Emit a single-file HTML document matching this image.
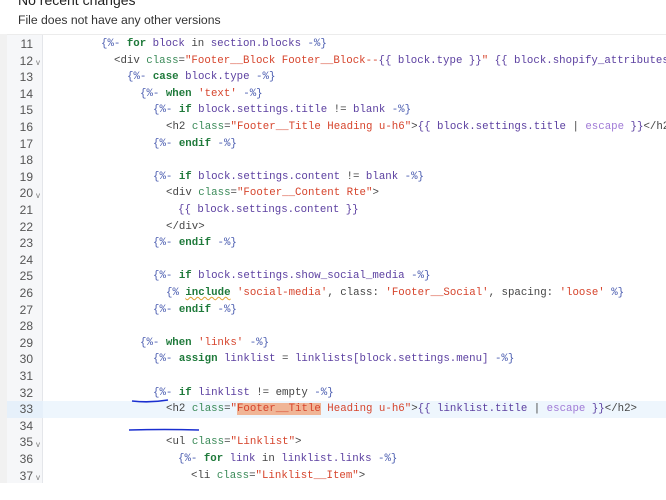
<!DOCTYPE html>
<html><head><meta charset="utf-8"><style>
*{margin:0;padding:0;box-sizing:border-box}
body{width:666px;height:500px;background:#fff;position:relative;overflow:hidden;font-family:"Liberation Sans",sans-serif}
.t1{position:absolute;left:18px;top:-8px;font-size:14px;color:#222;font-weight:500}
.t2{position:absolute;left:18px;top:13px;font-size:12.2px;color:#333}
.strip{position:absolute;left:0;top:34px;width:7px;height:449px;background:#f1f1f1}
.gut{position:absolute;left:7px;top:34px;width:36px;height:449px;background:#f6f7f9;border-right:1px solid #e4e6ea}
.hdr{position:absolute;left:7px;top:34px;width:659px;height:1px;background:#ececec}
.hl{position:absolute;left:43px;top:401px;width:623px;height:17px;background:#eef6fd}
.hlg{position:absolute;left:7px;top:401px;width:36px;height:17px;background:#e6f0fa}
.ln{position:absolute;left:7px;width:26px;text-align:right;font-size:12px;color:#555;line-height:16.6px}
.fold{position:absolute;left:36px;font-size:8px;color:#777}
.c{position:absolute;font-family:"Liberation Mono",monospace;font-size:10.75px;line-height:16.6px;white-space:pre;color:#444}
.d{color:#4a5cb0}.k{color:#1f7a3b;font-weight:bold}.v{color:#5b3fa0}.s{color:#d6442c}.a{color:#3a8a58}.e{color:#a07ad6}.g{color:#444}
.hi{background:#f0b596}
.sq{text-decoration:underline wavy #e0a030;text-decoration-thickness:1px}
</style></head><body>
<div class="t1">No recent changes</div>
<div class="t2">File does not have any other versions</div>
<div class="strip"></div>
<div class="gut"></div>
<div class="hdr"></div>
<div class="hl"></div><div class="hlg"></div>

<div class="ln" style="top:36px">11</div>
<div class="ln" style="top:52.6px">12</div><div class="fold" style="top:58px">v</div>
<div class="ln" style="top:69.2px">13</div>
<div class="ln" style="top:85.8px">14</div>
<div class="ln" style="top:102.4px">15</div>
<div class="ln" style="top:119px">16</div>
<div class="ln" style="top:135.6px">17</div>
<div class="ln" style="top:152.2px">18</div>
<div class="ln" style="top:168.8px">19</div>
<div class="ln" style="top:185.4px">20</div><div class="fold" style="top:191px">v</div>
<div class="ln" style="top:202px">21</div>
<div class="ln" style="top:218.6px">22</div>
<div class="ln" style="top:235.2px">23</div>
<div class="ln" style="top:251.8px">24</div>
<div class="ln" style="top:268.4px">25</div>
<div class="ln" style="top:285px">26</div>
<div class="ln" style="top:301.6px">27</div>
<div class="ln" style="top:318.2px">28</div>
<div class="ln" style="top:334.8px">29</div>
<div class="ln" style="top:351.4px">30</div>
<div class="ln" style="top:368px">31</div>
<div class="ln" style="top:384.6px">32</div>
<div class="ln" style="top:401.2px">33</div>
<div class="ln" style="top:417.8px">34</div>
<div class="ln" style="top:434.4px">35</div><div class="fold" style="top:440px">v</div>
<div class="ln" style="top:451px">36</div>
<div class="ln" style="top:467.6px">37</div><div class="fold" style="top:473px">v</div>

<div class="c" style="left:101px;top:36px"><span class="d">{%-</span> <span class="k">for</span> <span class="v">block</span> in <span class="v">section.blocks</span> <span class="d">-%}</span></div>
<div class="c" style="left:114px;top:52.6px">&lt;div <span class="a">class</span>=<span class="s">"Footer__Block Footer__Block--</span><span class="v">{{ block.type }}</span><span class="s">"</span> <span class="v">{{ block.shopify_attributes }}</span>&gt;</div>
<div class="c" style="left:127px;top:69.2px"><span class="d">{%-</span> <span class="k">case</span> <span class="v">block.type</span> <span class="d">-%}</span></div>
<div class="c" style="left:140px;top:85.8px"><span class="d">{%-</span> <span class="k">when</span> <span class="s">'text'</span> <span class="d">-%}</span></div>
<div class="c" style="left:153px;top:102.4px"><span class="d">{%-</span> <span class="k">if</span> <span class="v">block.settings.title</span> != <span class="v">blank</span> <span class="d">-%}</span></div>
<div class="c" style="left:166px;top:119px">&lt;h2 <span class="a">class</span>=<span class="s">"Footer__Title Heading u-h6"</span>&gt;<span class="v">{{ block.settings.title</span> | <span class="e">escape</span> <span class="v">}}</span>&lt;/h2&gt;</div>
<div class="c" style="left:153px;top:135.6px"><span class="d">{%-</span> <span class="k">endif</span> <span class="d">-%}</span></div>
<div class="c" style="left:153px;top:168.8px"><span class="d">{%-</span> <span class="k">if</span> <span class="v">block.settings.content</span> != <span class="v">blank</span> <span class="d">-%}</span></div>
<div class="c" style="left:166px;top:185.4px">&lt;div <span class="a">class</span>=<span class="s">"Footer__Content Rte"</span>&gt;</div>
<div class="c" style="left:178px;top:202px"><span class="v">{{ block.settings.content }}</span></div>
<div class="c" style="left:166px;top:218.6px">&lt;/div&gt;</div>
<div class="c" style="left:153px;top:235.2px"><span class="d">{%-</span> <span class="k">endif</span> <span class="d">-%}</span></div>
<div class="c" style="left:153px;top:268.4px"><span class="d">{%-</span> <span class="k">if</span> <span class="v">block.settings.show_social_media</span> <span class="d">-%}</span></div>
<div class="c" style="left:166px;top:285px"><span class="d">{%</span> <span class="k sq">include</span> <span class="s">'social-media'</span>, class: <span class="s">'Footer__Social'</span>, spacing: <span class="s">'loose'</span> <span class="d">%}</span></div>
<div class="c" style="left:153px;top:301.6px"><span class="d">{%-</span> <span class="k">endif</span> <span class="d">-%}</span></div>
<div class="c" style="left:140px;top:334.8px"><span class="d">{%-</span> <span class="k">when</span> <span class="s">'links'</span> <span class="d">-%}</span></div>
<div class="c" style="left:153px;top:351.4px"><span class="d">{%-</span> <span class="k">assign</span> <span class="v">linklist</span> = <span class="v">linklists[block.settings.menu]</span> <span class="d">-%}</span></div>
<div class="c" style="left:153px;top:384.6px"><span class="d">{%-</span> <span class="k">if</span> <span class="v">linklist</span> != empty <span class="d">-%}</span></div>
<div class="c" style="left:166px;top:401.2px">&lt;h2 <span class="a">class</span>=<span class="s">"<span class="hi">Footer__Title</span> Heading u-h6"</span>&gt;<span class="v">{{ linklist.title</span> | <span class="e">escape</span> <span class="v">}}</span>&lt;/h2&gt;</div>
<div class="c" style="left:166px;top:434.4px">&lt;ul <span class="a">class</span>=<span class="s">"Linklist"</span>&gt;</div>
<div class="c" style="left:178px;top:451px"><span class="d">{%-</span> <span class="k">for</span> <span class="v">link</span> in <span class="v">linklist.links</span> <span class="d">-%}</span></div>
<div class="c" style="left:191px;top:467.6px">&lt;li <span class="a">class</span>=<span class="s">"Linklist__Item"</span>&gt;</div>

<svg style="position:absolute;left:0;top:0" width="666" height="500">
<path d="M132 401 Q150 403 168 400" stroke="#1a2fd0" stroke-width="1.6" fill="none"/>
<path d="M129 430 Q165 429 199 430" stroke="#1a2fd0" stroke-width="1.6" fill="none"/>
</svg>
</body></html>
